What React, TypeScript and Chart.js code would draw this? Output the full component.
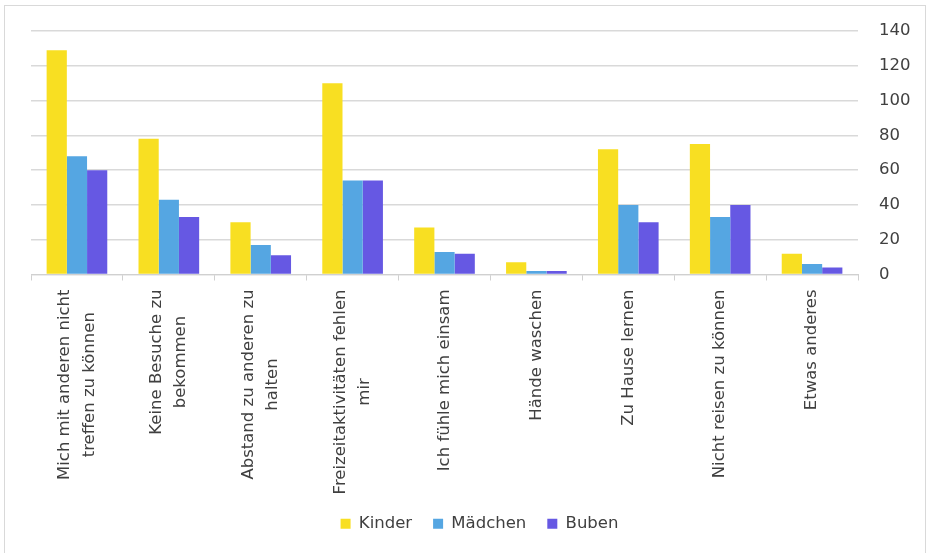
import React, { useEffect, useRef } from "react";
import { Chart, registerables } from "chart.js";

Chart.register(...registerables);

const categories: string[][] = [
  ["Mich mit anderen nicht", "treffen zu können"],
  ["Keine Besuche zu", "bekommen"],
  ["Abstand zu anderen zu", "halten"],
  ["Freizeitaktivitäten fehlen", "mir"],
  ["Ich fühle mich einsam"],
  ["Hände waschen"],
  ["Zu Hause lernen"],
  ["Nicht reisen zu können"],
  ["Etwas anderes"],
];

const kinder = [129, 78, 30, 110, 27, 7, 72, 75, 12];
const maedchen = [68, 43, 17, 54, 13, 2, 40, 33, 6];
const buben = [60, 33, 11, 54, 12, 2, 30, 40, 4];

const seriesNames = ["Kinder", "Mädchen", "Buben"];
const seriesColors = ["#F8DF22", "#55A6E2", "#6658E3"];

const yTicks = [0, 20, 40, 60, 80, 100, 120, 140];

const FONT = "'DejaVu Sans', sans-serif";
const TEXT = "#404040";

const centerMultiLineLabels = {
  id: "centerMultiLineLabels",
  beforeDraw(chart: any) {
    const scale = chart.scales.x;
    if (!scale) return;
    const items = scale.getLabelItems();
    if ((items as any).__centered) return;
    (items as any).__centered = true;
    const ctx = chart.ctx;
    items.forEach((it: any) => {
      const lines: string[] = Array.isArray(it.label) ? it.label : [it.label];
      ctx.save();
      ctx.font = it.font.string;
      const w = Math.max(...lines.map((l) => ctx.measureText(l).width));
      ctx.restore();
      const lh = it.font.lineHeight;
      it.options.translation[0] -= (lh * (lines.length - 1)) / 2;
      it.options.translation[1] += w / 2;
      it.options.textAlign = "center";
    });
  },
};

export default function App() {
  const canvasRef = useRef<HTMLCanvasElement | null>(null);

  useEffect(() => {
    if (!canvasRef.current) return;
    const data = [kinder, maedchen, buben];
    const chart = new Chart(canvasRef.current, {
      type: "bar",
      data: {
        labels: categories,
        datasets: data.map((d, i) => ({
          label: seriesNames[i],
          data: d,
          backgroundColor: seriesColors[i],
          borderWidth: 0,
          barPercentage: 1,
          categoryPercentage: 0.66,
        })),
      },
      options: {
        animation: false,
        responsive: true,
        maintainAspectRatio: false,
        layout: { padding: { left: 31, top: 31, right: 0, bottom: 11 } },
        plugins: {
          legend: {
            position: "bottom",
            labels: {
              boxWidth: 10,
              boxHeight: 10,
              padding: 21,
              color: TEXT,
              font: { family: FONT, size: 16.5 },
            },
          },
          tooltip: { enabled: false },
        },
        scales: {
          x: {
            grid: {
              display: true,
              drawOnChartArea: false,
              drawTicks: true,
              tickLength: 6,
              offset: true,
              color: "#d0d0d0",
            },
            border: { display: true, color: "#d0d0d0" },
            ticks: {
              autoSkip: false,
              minRotation: 90,
              maxRotation: 90,
              padding: 9,
              color: TEXT,
              font: { family: FONT, size: 16.5, lineHeight: 1.5 },
            },
            afterFit: (scale: any) => {
              scale.height = 220;
              scale._computeLabelArea = () => undefined;
            },
          },
          y: {
            position: "right",
            min: 0,
            max: 140,
            afterBuildTicks: (scale: any) => {
              scale.ticks = yTicks.map((v) => ({ value: v }));
            },
            grid: {
              color: "#d9d9d9",
              lineWidth: 1.5,
              drawTicks: false,
            },
            border: { display: false },
            ticks: {
              padding: 21,
              color: TEXT,
              font: { family: FONT, size: 16.5 },
            },
            afterFit: (scale: any) => {
              scale.width = 70;
            },
          },
        },
      },
      plugins: [centerMultiLineLabels],
    });
    return () => chart.destroy();
  }, []);

  return (
    <div
      style={{
        position: "absolute",
        left: 0,
        top: 0,
        width: 928,
        height: 553,
        background: "#ffffff",
        overflow: "hidden",
      }}
    >
      <div
        style={{
          position: "absolute",
          left: 4,
          top: 5,
          width: 922,
          height: 560,
          border: "1.5px solid #d9d9d9",
          boxSizing: "border-box",
        }}
      />
      <div style={{ position: "absolute", left: 0, top: 0, width: 928, height: 553 }}>
        <canvas ref={canvasRef} />
      </div>
    </div>
  );
}
